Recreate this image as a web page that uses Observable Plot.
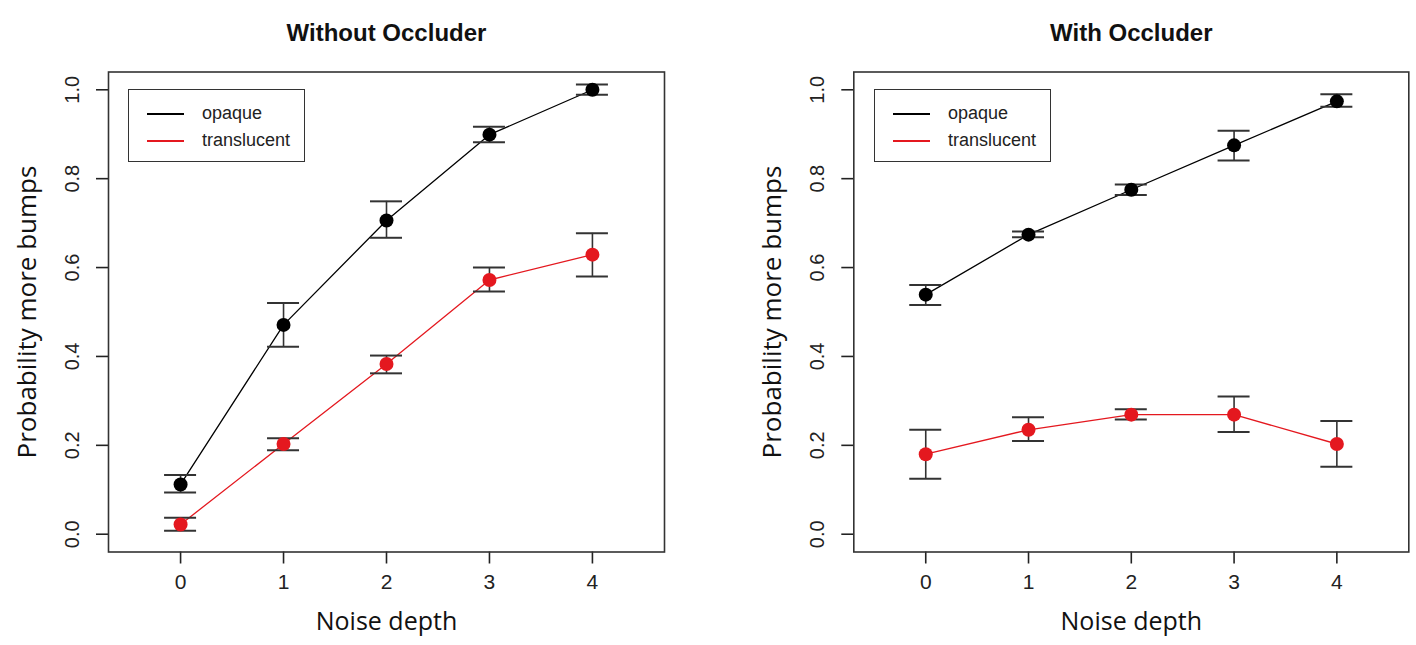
<!DOCTYPE html>
<html>
<head>
<meta charset="utf-8">
<script src="https://cdn.jsdelivr.net/npm/d3@7"></script>
<script src="https://cdn.jsdelivr.net/npm/@observablehq/plot@0.6"></script>
<style>
  html, body { margin: 0; padding: 0; background: #fff; }
  #page { position: relative; width: 1416px; height: 645px; overflow: hidden; background: #fff; }
  .panel { position: absolute; top: 0; width: 708px; height: 645px; }
  .panel svg { overflow: visible; }
  .panel g[aria-label*="axis"] line, .panel g[aria-label*="axis"] path { stroke-width: 1.6px; }
  .legend { position: absolute; top: 89px; width: 175px; height: 71px; border: 1.6px solid #333; background: #fff;
            font-family: "Liberation Sans", Arial, sans-serif; font-size: 18px; color: #222; }
  .legend .row { position: absolute; left: 0; height: 20px; }
  .legend .swatch { position: absolute; left: 18px; width: 37px; height: 0; border-top: 2.2px solid #000; }
  .legend .lab { position: absolute; left: 73px; white-space: nowrap; line-height: 20px; }
</style>
</head>
<body>
<div id="page"></div>
<script>
// ---- data ----
const noiseDepth = [0, 1, 2, 3, 4];
const xTickLabels = ["0", "1", "2", "3", "4"];
const yTicks = [0, 0.2, 0.4, 0.6, 0.8, 1.0];
const yTickLabels = ["0.0", "0.2", "0.4", "0.6", "0.8", "1.0"];
const seriesNames = ["opaque", "translucent"];
const seriesColors = ["#000000", "#e4181f"];
const panelTitles = ["Without Occluder", "With Occluder"];
const xLabel = "Noise depth";
const yLabel = "Probability more bumps";

// Without Occluder
const withoutOpaque    = [0.112, 0.471, 0.706, 0.899, 1.000];
const withoutOpaqueLo  = [0.094, 0.422, 0.667, 0.882, 0.989];
const withoutOpaqueHi  = [0.133, 0.520, 0.749, 0.917, 1.012];
const withoutTransl    = [0.022, 0.203, 0.383, 0.572, 0.629];
const withoutTranslLo  = [0.008, 0.189, 0.362, 0.546, 0.580];
const withoutTranslHi  = [0.037, 0.216, 0.402, 0.600, 0.677];
// With Occluder
const withOpaque       = [0.539, 0.674, 0.775, 0.875, 0.974];
const withOpaqueLo     = [0.516, 0.668, 0.763, 0.841, 0.962];
const withOpaqueHi     = [0.561, 0.681, 0.787, 0.908, 0.990];
const withTransl       = [0.180, 0.235, 0.269, 0.269, 0.203];
const withTranslLo     = [0.125, 0.210, 0.258, 0.230, 0.152];
const withTranslHi     = [0.235, 0.263, 0.281, 0.310, 0.255];

function rows(vals, lo, hi, s) {
  return noiseDepth.map((x, i) => ({x, y: vals[i], lo: lo[i], hi: hi[i], s}));
}

const sansR = "'Liberation Sans', Arial, sans-serif";
const sansLabel = "'Open Sans', 'Noto Sans', sans-serif";

function panel(title, data, marginLeft, marginRight) {
  return Plot.plot({
    width: 708,
    height: 645,
    marginLeft,
    marginRight,
    marginTop: 71.5,
    marginBottom: 93.5,
    style: {fontFamily: sansR, fontSize: "20px", color: "#222", background: "transparent", overflow: "visible"},
    x: {domain: [-0.7, 4.7], ticks: noiseDepth, tickSize: 12, tickFormat: () => "", label: null},
    y: {domain: [-0.04, 1.04], ticks: yTicks, tickSize: 12, tickFormat: () => "", label: null},
    color: {domain: seriesNames, range: seriesColors},
    marks: [
      Plot.frame({stroke: "#333", strokeWidth: 1.6}),
      Plot.line(data, {x: "x", y: "y", z: "s", stroke: "s", strokeWidth: 1.3}),
      Plot.ruleX(data, {x: "x", y1: "lo", y2: "hi", stroke: "#333", strokeWidth: 1.6}),
      Plot.ruleY(data, {y: "hi", x1: "x", x2: "x", insetLeft: -16, insetRight: -16, stroke: "#333", strokeWidth: 2}),
      Plot.ruleY(data, {y: "lo", x1: "x", x2: "x", insetLeft: -16, insetRight: -16, stroke: "#333", strokeWidth: 2}),
      Plot.dot(data, {x: "x", y: "y", fill: "s", r: 7, stroke: null}),
      // tick labels
      Plot.text(noiseDepth, {x: d => d, text: (d, i) => xTickLabels[i], frameAnchor: "bottom", dy: 37,
        fontSize: 21, fill: "#222"}),
      Plot.text(yTicks, {y: d => d, text: (d, i) => yTickLabels[i], frameAnchor: "left", dx: -36, rotate: -90,
        fontSize: 20, fill: "#222", textAnchor: "middle"}),
      // axis titles
      Plot.text([xLabel], {frameAnchor: "bottom", dy: 78, fontSize: 25, fontFamily: sansLabel, fill: "#111"}),
      Plot.text([yLabel], {frameAnchor: "left", dx: -81, rotate: -90, fontSize: 26, fontFamily: sansLabel,
        fill: "#111", textAnchor: "middle"}),
      // panel title
      Plot.text([title], {frameAnchor: "top", dy: -48, fontSize: 24, fontWeight: "bold", fill: "#111"})
    ]
  });
}

const page = document.getElementById("page");

const left = document.createElement("div");
left.className = "panel";
left.style.left = "0px";
left.appendChild(panel(panelTitles[0], [
  ...rows(withoutOpaque, withoutOpaqueLo, withoutOpaqueHi, seriesNames[0]),
  ...rows(withoutTransl, withoutTranslLo, withoutTranslHi, seriesNames[1])
], 108, 44));
page.appendChild(left);

const right = document.createElement("div");
right.className = "panel";
right.style.left = "708px";
right.appendChild(panel(panelTitles[1], [
  ...rows(withOpaque, withOpaqueLo, withOpaqueHi, seriesNames[0]),
  ...rows(withTransl, withTranslLo, withTranslHi, seriesNames[1])
], 145.3, 7.7));
page.appendChild(right);

function legend(leftPx) {
  const box = document.createElement("div");
  box.className = "legend";
  box.style.left = leftPx + "px";
  seriesNames.forEach((name, i) => {
    const row = document.createElement("div");
    row.className = "row";
    row.style.top = (i === 0 ? 13 : 39.5) + "px";
    const sw = document.createElement("div");
    sw.className = "swatch";
    sw.style.top = "10px";
    sw.style.borderTopColor = seriesColors[i];
    const lab = document.createElement("div");
    lab.className = "lab";
    lab.style.top = "0px";
    lab.textContent = name;
    row.appendChild(sw);
    row.appendChild(lab);
    box.appendChild(row);
  });
  page.appendChild(box);
}
legend(128);
legend(874);
</script>
</body>
</html>
